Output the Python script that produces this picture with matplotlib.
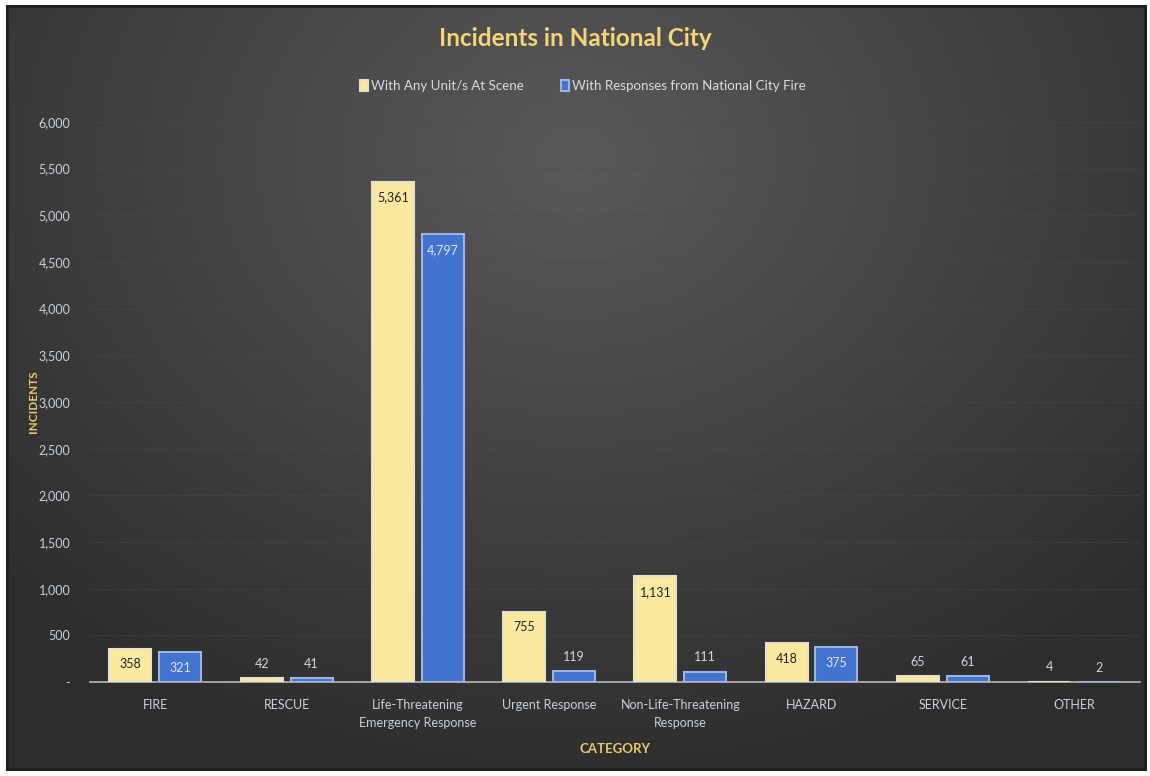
import numpy as np
import matplotlib.pyplot as plt
from matplotlib.ticker import FuncFormatter, MultipleLocator

categories = ['FIRE', 'RESCUE', 'Life-Threatening\nEmergency Response', 'Urgent Response',
              'Non-Life-Threatening\nResponse', 'HAZARD', 'SERVICE', 'OTHER']
any_unit = [358, 42, 5361, 755, 1131, 418, 65, 4]
ncfire = [321, 41, 4797, 119, 111, 375, 61, 2]
series_names = ['With Any Unit/s At Scene', 'With Responses from National City Fire']

plt.rcParams['font.family'] = ['Lato', 'DejaVu Sans']

fig = plt.figure(figsize=(11.5, 7.76), dpi=100, facecolor='white')

# dark frame with a soft radial glow
bg = fig.add_axes([0.005, 0.006, 0.992, 0.988])
bg.set_axis_off()
yy, xx = np.mgrid[0:1:300j, 0:1:450j]
r = np.sqrt(((xx - 0.5) / 0.75) ** 2 + ((yy - 0.2) / 0.9) ** 2)
shade = np.clip(0.35 - 0.19 * r, 0.18, 0.35)
bg.imshow(np.dstack([shade] * 3), aspect='auto', extent=[0, 1, 0, 1], origin='upper')
bg.plot([0, 1, 1, 0, 0], [0, 0, 1, 1, 0], color='#1e1e1e', lw=4, transform=bg.transAxes)

ax = fig.add_axes([0.078, 0.121, 0.913, 0.722])
ax.set_facecolor('none')
x = np.arange(len(categories))
w = 0.32
b1 = ax.bar(x - 0.19, any_unit, w, color='#FBE9A0', edgecolor='#e6e1c8', linewidth=1.5, zorder=3)
b2 = ax.bar(x + 0.19, ncfire, w, color='#4273CF', edgecolor='#9db4e0', linewidth=1.5, zorder=3)

for bars, vals, incol in [(b1, any_unit, '#222222'), (b2, ncfire, '#dde4f2')]:
    for rect, v in zip(bars, vals):
        cx = rect.get_x() + rect.get_width() / 2
        if v > 300:
            ax.annotate(f'{v:,}', (cx, v), xytext=(0, -7), textcoords='offset points',
                        ha='center', va='top', fontsize=9, color=incol, zorder=4)
        else:
            ax.annotate(f'{v:,}', (cx, v), xytext=(0, 6), textcoords='offset points',
                        ha='center', va='bottom', fontsize=9, color='#cfd6e0', zorder=4)

ax.set_xlim(-0.5, len(categories) - 0.5)
ax.set_ylim(0, 6000)
ax.yaxis.set_major_locator(MultipleLocator(500))
ax.yaxis.set_major_formatter(FuncFormatter(lambda v, p: '-' if v == 0 else f'{int(v):,}'))
ax.set_xticks(x)
ax.set_xticklabels(categories, linespacing=1.65)
ax.tick_params(axis='both', length=0, colors='#c9d0da', labelsize=9)
ax.tick_params(axis='x', pad=12)
ax.tick_params(axis='y', pad=14)
ax.grid(axis='y', color='#4c4c4c', linestyle=':', linewidth=0.8, zorder=0)
for s in ['top', 'right', 'left']:
    ax.spines[s].set_visible(False)
ax.spines['bottom'].set_color('#b8b8b8')
ax.spines['bottom'].set_linewidth(1.2)

ax.set_ylabel('INCIDENTS', color='#e8c96a', fontsize=8.5, fontweight='bold')
ax.yaxis.set_label_coords(-0.048, 0.5)
ax.set_xlabel('CATEGORY', color='#e8c96a', fontsize=9.5, fontweight='bold')
ax.xaxis.set_label_coords(0.5, -0.108)

fig.text(0.5, 0.95, 'Incidents in National City', ha='center', va='center',
         fontsize=17.5, fontweight='bold', color='#F4D477')

leg = fig.legend([b1, b2], series_names, loc='center', bbox_to_anchor=(0.507, 0.889), ncol=2,
                 frameon=False, fontsize=9.6, handlelength=0.6, handleheight=0.9,
                 handletextpad=0.2, columnspacing=2.8)
for t in leg.get_texts():
    t.set_color('#d8dbe0')

fig.savefig('out.png', dpi=100, facecolor=fig.get_facecolor())
